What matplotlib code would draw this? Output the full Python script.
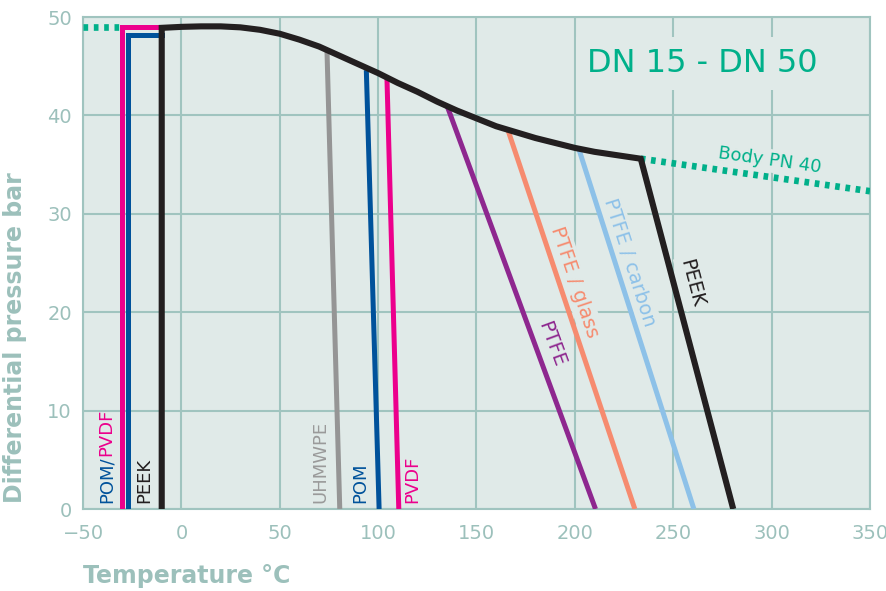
import numpy as np
import matplotlib
matplotlib.use('Agg')
from matplotlib import pyplot as plt

# envelope curve (black, body limit for the seals)
curve_t = [-10, 0, 10, 20, 30, 40, 50, 60, 70, 80, 90, 100, 110, 120,
           130, 140, 150, 160, 170, 180, 190, 200, 210, 220, 233.5]
curve_p = [48.9, 49.0, 49.05, 49.05, 48.95, 48.7, 48.3, 47.7, 47.0, 46.1,
           45.2, 44.3, 43.3, 42.4, 41.4, 40.5, 39.7, 38.9, 38.3, 37.7,
           37.2, 36.7, 36.3, 36.0, 35.6]
peek_end_t = 280.5

# body PN 40 (dotted green)
body_left_t = [-50, -30]
body_left_p = [49, 49]
body_right_t = [233.5, 350]
body_right_p = [35.6, 32.3]

# low temperature limits (vertical steps)
pvdf_low_t = [-30, -30, -10]
pvdf_low_p = [0, 49, 49]
pom_low_t = [-27, -27, -10]
pom_low_p = [0, 48.2, 48.2]

# high temperature limits (slanted)
uhmwpe_t = [74, 80.5]
uhmwpe_p = [46.6, 0]
pom_t = [94, 100.5]
pom_p = [44.6, 0]
pvdf_t = [104.5, 110.5]
pvdf_p = [43.7, 0]
ptfe_t = [135, 210.5]
ptfe_p = [41.0, 0]
ptfe_glass_t = [166, 230.5]
ptfe_glass_p = [38.5, 0]
ptfe_carbon_t = [202, 260.5]
ptfe_carbon_p = [36.6, 0]

x_ticks = [-50, 0, 50, 100, 150, 200, 250, 300, 350]
y_ticks = [0, 10, 20, 30, 40, 50]

bg = '#e0eae8'
gridc = '#a0c4bf'
labc = '#9cc0bb'
black = '#231f20'
pink = '#ec008c'
blue = '#00529b'
grey = '#959595'
purple = '#8e278f'
salmon = '#f68b6f'
lblue = '#8dc1e8'
green = '#00b08a'

plt.rcParams['font.family'] = ['DejaVu Sans']

fig = plt.figure(figsize=(8.87, 5.91), dpi=100)
ax = fig.add_axes([0.0936, 0.1387, 0.8872, 0.8325])
ax.set_facecolor(bg)
ax.set_xlim(-50, 350)
ax.set_ylim(0, 50)
ax.set_xticks(x_ticks)
ax.set_yticks(y_ticks)
ax.grid(color=gridc, lw=1.5, zorder=0.5)
ax.set_axisbelow(True)
for s in ax.spines.values():
    s.set_color(gridc)
    s.set_linewidth(1.5)
ax.tick_params(length=0, labelsize=14, labelcolor=labc)
ax.tick_params(axis='x', pad=11)
ax.tick_params(axis='y', pad=8)

lw = 3.6
# low temperature steps
ax.plot(pvdf_low_t, pvdf_low_p, color=pink, lw=lw, zorder=3,
        solid_joinstyle='miter')
ax.plot(pom_low_t, pom_low_p, color=blue, lw=lw, zorder=3.1,
        solid_joinstyle='miter')

# slanted limits
for t, p, c in [(uhmwpe_t, uhmwpe_p, grey), (pom_t, pom_p, blue),
                (pvdf_t, pvdf_p, pink), (ptfe_t, ptfe_p, purple),
                (ptfe_glass_t, ptfe_glass_p, salmon),
                (ptfe_carbon_t, ptfe_carbon_p, lblue)]:
    ax.plot(t, p, color=c, lw=lw, zorder=3, solid_capstyle='butt')

# black envelope incl. PEEK
black_t = [curve_t[0]] + curve_t + [peek_end_t]
black_p = [0] + curve_p + [0]
ax.plot(black_t, black_p, color=black, lw=4.4, zorder=4,
        solid_joinstyle='miter', solid_capstyle='butt')

# body PN 40
for t, p in [(body_left_t, body_left_p), (body_right_t, body_right_p)]:
    ax.plot(t, p, color=green, lw=4.8, dashes=(0.7, 0.85),
            dash_capstyle='butt', zorder=3.5)


def screen_angle(t, p):
    a = ax.transData.transform(np.column_stack([t, p]))
    d = a[-1] - a[0]
    return np.degrees(np.arctan2(d[1], d[0]))


box = dict(facecolor=bg, edgecolor='none', pad=2)

ax.text(265, 45.3, 'DN 15 - DN 50', color=green, fontsize=23,
        ha='center', va='center', zorder=1.5,
        bbox=dict(facecolor=bg, edgecolor='none', pad=8))
ax.text(299, 35.4, 'Body PN 40', color=green, fontsize=13,
        ha='center', va='center', rotation=screen_angle(body_right_t, body_right_p),
        rotation_mode='anchor', zorder=1.5, bbox=box)

slanted = [
    ('PEEK', black, 259.3, 23.0, [curve_t[-1], peek_end_t], [curve_p[-1], 0]),
    ('PTFE / carbon', lblue, 228, 25.1, ptfe_carbon_t, ptfe_carbon_p),
    ('PTFE / glass', salmon, 200, 23.1, ptfe_glass_t, ptfe_glass_p),
    ('PTFE', purple, 188.2, 16.8, ptfe_t, ptfe_p),
]
for txt, c, x, y, t, p in slanted:
    ax.text(x, y, txt, color=c, fontsize=14, ha='center', va='center',
            rotation=screen_angle(t, p), rotation_mode='anchor',
            zorder=1.5, bbox=box)

# vertical labels at the bottom
t1 = ax.text(-38, 0.6, 'POM/', color=blue, fontsize=13, rotation=90,
             ha='center', va='bottom', zorder=5)
ax.annotate('PVDF', xy=(0.5, 1), xycoords=t1, color=pink, fontsize=13,
            rotation=90, ha='center', va='bottom', zorder=5)
for txt, c, x in [('PEEK', black, -19), ('UHMWPE', '#9a9a9a', 70.5),
                  ('POM', blue, 90.8), ('PVDF', pink, 117.2)]:
    ax.text(x, 0.6, txt, color=c, fontsize=13, rotation=90,
            ha='center', va='bottom', zorder=5)

fig.text(83 / 887, 1 - 576 / 591, 'Temperature °C', color=labc,
         fontsize=17, fontweight='bold', ha='left', va='center')
fig.text(15 / 887, 1 - 503 / 591, 'Differential pressure bar', color=labc,
         fontsize=17, fontweight='bold', rotation=90, ha='center', va='bottom')

fig.savefig('out.png', dpi=100, facecolor='white')
